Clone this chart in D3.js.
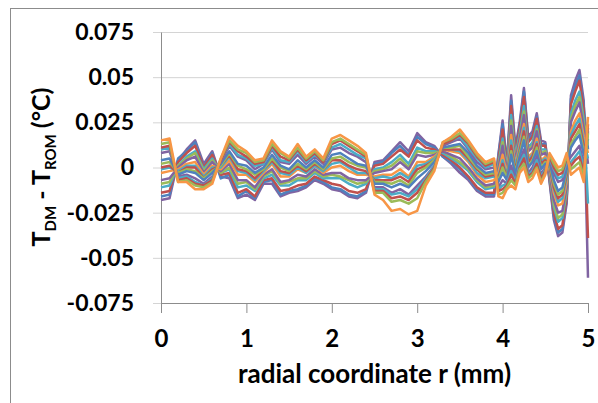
<!DOCTYPE html>
<html>
<head>
<meta charset="utf-8">
<script src="https://cdn.jsdelivr.net/npm/d3@7"></script>
<style>
  body { margin: 0; background: #fff; }
  svg { display: block; font-family: Lato, "Open Sans", sans-serif; }
</style>
</head>
<body>
<div id="chart"></div>
<script>
// radial positions (mm)
const radius = [
  0, 0.1, 0.2, 0.3, 0.4, 0.5, 0.6, 0.7, 0.8, 0.9,
  1.0, 1.1, 1.2, 1.3, 1.4, 1.5, 1.6, 1.7, 1.8, 1.9,
  2.0, 2.1, 2.2, 2.3, 2.4, 2.5, 2.6, 2.7, 2.8, 2.9,
  3.0, 3.1, 3.2, 3.3, 3.4, 3.5, 3.6, 3.7, 3.8, 3.9,
  3.95, 4.0, 4.05, 4.1, 4.15, 4.2, 4.25, 4.3, 4.35, 4.4,
  4.45, 4.5, 4.55, 4.6, 4.65, 4.7, 4.75, 4.8, 4.85, 4.9,
  4.95, 5.0
];

// T_DM - T_ROM for each run, in units of 0.001 °C
const run1 = [-18,-17,4,10,15,2,9,-5,-6,-17, -15,-18,-9,-9,-16,-14,-13,-11,-7,-9, -12,-13,-16,-17,-14,3,4,9,14,9, 19,14,12,6,2,-3,-7,-13,-16,-16, 7,26,2,40,11,25,44,17,20,30, 15,14,-8,-29,-38,-36,-20,40,48,54, 37,-61];
const runA = [-16,-15,5,9,14,0,8,-6,-4,-16, -13,-17,-8,-7,-15,-13,-12,-10,-6,-8, -11,-12,-15,-16,-13,2,3,8,12,7, 17,13,11,6,3,-1,-6,-12,-15,-15, 6,24,1,37,9,23,42,16,18,28, 13,13,-7,-27,-36,-34,-18,38,45,51, 34,10];
const run2 = [-14,-13,3,8,12,0,7,-4,-3,-14, -12,-16,-7,-6,-13,-12,-10,-9,-5,-7, -9,-10,-13,-14,-12,1,2,6,10,6, 15,11,10,7,4,0,-5,-11,-14,-14, 4,21,0,34,8,22,39,14,17,27, 12,12,-6,-25,-34,-32,-17,35,42,48, 32,-39];
const run3 = [-11,-10,1,6,9,-1,5,-3,-1,-11, -10,-13,-6,-4,-10,-10,-7,-7,-3,-6, -6,-6,-9,-11,-9,-1,0,3,7,2, 11,9,9,8,5,2,-2,-8,-12,-11, 2,16,-1,29,6,19,34,11,14,23, 10,10,-4,-22,-30,-28,-14,30,37,42, 27,-20];
const runB = [-9,-8,1,5,8,-2,4,-3,0,-9, -8,-12,-5,-2,-9,-8,-6,-6,-2,-5, -4,-5,-7,-9,-8,-2,-1,1,5,0, 9,8,8,9,6,3,-1,-7,-11,-10, 0,14,-2,26,4,17,31,10,12,21, 8,9,-3,-20,-28,-26,-12,27,34,39, 24,18];
const run4 = [-7,-6,0,4,6,-3,3,-2,2,-7, -7,-11,-4,-1,-8,-7,-4,-5,-1,-4, -3,-3,-6,-7,-7,-3,-2,-1,3,-1, 7,6,7,9,7,5,0,-6,-10,-9, -1,12,-3,23,3,16,29,9,11,20, 7,8,-3,-18,-25,-24,-11,25,31,36, 22,2];
const run5 = [-3,-2,-1,2,3,-4,1,-1,4,-4, -4,-8,-3,2,-5,-5,-1,-3,1,-3, 0,1,-2,-4,-4,-5,-4,-4,-1,-5, 3,3,6,10,9,8,3,-4,-8,-7, -3,7,-4,18,1,13,24,6,8,16, 4,6,-1,-14,-21,-20,-8,20,26,30, 17,8];
const runC = [-1,0,-2,1,1,-5,0,0,6,-2, -3,-7,-2,3,-3,-4,0,-3,1,-2, 2,3,0,-3,-3,-6,-5,-6,-3,-6, 1,2,5,10,10,9,4,-3,-6,-5, -5,4,-5,15,0,11,22,4,7,14, 3,5,0,-12,-19,-17,-6,18,23,27, 14,5];
const run6 = [0,1,-3,0,0,-6,-1,1,7,-1, -2,-6,-1,4,-2,-3,1,-2,2,-1, 4,4,1,-1,-2,-7,-7,-7,-5,-8, -1,1,4,10,10,10,5,-1,-5,-4, -6,2,-6,12,-2,9,20,3,6,13, 2,4,1,-11,-17,-15,-4,16,20,24, 12,12];
const runD = [2,3,-3,-1,-2,-6,-2,1,8,1, -1,-4,-1,5,0,-2,2,-1,3,-1, 5,6,3,1,0,-8,-8,-9,-7,-10, -3,0,4,11,11,12,6,0,-4,-3, -7,0,-6,9,-3,8,17,1,4,11, 0,3,2,-9,-15,-13,-2,13,17,21, 9,14];
const run7 = [4,5,-4,-2,-3,-7,-3,2,9,2, 1,-3,0,7,1,-1,4,0,4,0, 7,8,5,2,1,-9,-9,-11,-9,-11, -6,-2,3,11,12,13,8,1,-3,-2, -8,-3,-7,7,-4,6,15,0,3,9, -1,2,3,-7,-13,-11,-1,11,15,18, 7,16];
const run8 = [8,9,-5,-4,-6,-9,-5,3,12,6, 4,-1,2,10,3,2,7,2,6,2, 10,11,8,6,3,-11,-11,-14,-12,-15, -10,-5,1,12,14,16,10,3,-1,0, -11,-7,-9,1,-7,3,10,-3,0,6, -4,0,4,-3,-8,-7,2,6,9,12, 2,20];
const runE = [10,11,-6,-5,-8,-10,-6,4,13,7, 5,1,2,11,4,3,9,3,7,3, 11,13,10,7,5,-12,-12,-15,-14,-16, -12,-6,1,13,15,17,11,5,0,2, -12,-10,-9,-2,-8,2,7,-4,-2,4, -5,-1,5,-1,-6,-5,3,3,6,9, 0,22];
const run9 = [11,12,-7,-6,-9,-10,-7,4,14,9, 6,2,3,12,6,4,10,4,8,3, 13,15,12,9,6,-13,-13,-17,-16,-18, -14,-7,0,13,15,18,13,6,1,3, -13,-12,-10,-4,-9,0,5,-5,-3,2, -6,-2,6,0,-4,-3,5,1,4,6, -3,24];
const runF = [13,14,-8,-7,-10,-11,-8,5,15,10, 8,3,4,13,8,5,11,5,9,4, 14,16,13,10,7,-14,-14,-19,-18,-20, -17,-8,-1,14,16,19,14,7,2,4, -15,-14,-11,-7,-10,-1,2,-6,-4,0, -8,-3,7,2,-2,-1,6,-1,1,3, -5,19];
const run10 = [15,16,-8,-8,-12,-12,-9,5,17,12, 9,4,5,15,9,6,13,6,10,5, 16,18,15,12,8,-15,-18,-24,-23,-26, -24,-10,-2,14,17,21,15,8,3,5, -16,-17,-12,-10,-12,-3,0,-8,-6,-1, -9,-4,8,4,0,1,8,-4,-2,0, -8,28];

const runs = [run1, runA, run2, run3, runB, run4, run5, runC,
              run6, runD, run7, run8, runE, run9, runF, run10];

const xTicks = [0, 1, 2, 3, 4, 5];
const yTicks = [-0.075, -0.05, -0.025, 0, 0.025, 0.05, 0.075];
const yTickLabels = ["-0.075", "-0.05", "-0.025", "0", "0.025", "0.05", "0.075"];

const colors = ["#8064A2", "#4F81BD", "#C0504D", "#4BACC6", "#9BBB59", "#8064A2",
                "#F79646", "#4BACC6", "#C0504D", "#9BBB59", "#4F81BD", "#8064A2",
                "#4BACC6", "#C0504D", "#9BBB59", "#F79646"];

const svgWidth = 598;
const svgHeight = 403;
const plot = { left: 161, right: 588, top: 32, bottom: 303 };

const svg = d3.select("#chart")
  .append("svg")
  .attr("width", svgWidth)
  .attr("height", svgHeight);

// chart frame (cut off on the right and bottom)
svg.append("rect")
  .attr("x", 10.5)
  .attr("y", 8.5)
  .attr("width", 640)
  .attr("height", 440)
  .attr("fill", "none")
  .attr("stroke", "#8c8c8c");

const xScale = d3.scaleLinear().domain([0, 5]).range([plot.left, plot.right]);
const yScale = d3.scaleLinear().domain([-0.075, 0.075]).range([plot.bottom, plot.top]);

// horizontal gridlines (they stick out left of the axis as tick marks)
svg.append("g")
  .attr("transform", `translate(${plot.right},0)`)
  .call(d3.axisLeft(yScale).tickValues(yTicks).tickSize(plot.right - 153).tickFormat(""))
  .call((g) => g.select(".domain").remove())
  .call((g) => g.selectAll("line").attr("stroke", "#d4d4d4").attr("stroke-width", 1));

// y axis labels + line
svg.append("g")
  .attr("transform", `translate(${plot.left},0)`)
  .call(d3.axisLeft(yScale).tickValues(yTicks).tickSize(0).tickPadding(27)
    .tickFormat((d, i) => yTickLabels[i]))
  .call((g) => g.select(".domain").attr("stroke", "#8c8c8c"))
  .call((g) => g.selectAll("text")
    .attr("fill", "#000")
    .style("font-family", "Lato, sans-serif")
    .style("font-weight", "bold")
    .style("font-size", "23px"));

// x axis
svg.append("g")
  .attr("transform", `translate(0,${plot.bottom})`)
  .call(d3.axisBottom(xScale).tickValues(xTicks).tickSize(10).tickSizeOuter(0).tickPadding(17)
    .tickFormat(d3.format("d")))
  .call((g) => g.select(".domain").attr("stroke", "#8c8c8c"))
  .call((g) => g.selectAll("line").attr("stroke", "#8c8c8c"))
  .call((g) => g.selectAll("text")
    .attr("fill", "#000")
    .style("font-family", "Lato, sans-serif")
    .style("font-weight", "bold")
    .style("font-size", "24px"));

// lines
const line = d3.line()
  .x((d, i) => xScale(radius[i]))
  .y((d) => yScale(d * 1e-3));

svg.append("g")
  .selectAll("path")
  .data(runs)
  .enter()
  .append("path")
  .attr("fill", "none")
  .attr("stroke", (d, i) => colors[i % colors.length])
  .attr("stroke-width", 2.5)
  .attr("stroke-linejoin", "round")
  .attr("d", line);

// x title
svg.append("text")
  .attr("x", (plot.left + plot.right) / 2)
  .attr("y", 383)
  .attr("text-anchor", "middle")
  .style("font-weight", "bold")
  .style("font-size", "26px")
  .text("radial coordinate r (mm)");

// y title with subscripts
const yTitle = svg.append("text")
  .attr("transform", "translate(50,167) rotate(-90)")
  .attr("text-anchor", "middle")
  .style("font-weight", "bold")
  .style("font-size", "25px");
yTitle.append("tspan").text("T");
yTitle.append("tspan").attr("dy", 6).style("font-size", "15px").text("DM");
yTitle.append("tspan").attr("dy", -6).text(" - T");
yTitle.append("tspan").attr("dy", 6).style("font-size", "15px").text("ROM");
yTitle.append("tspan").attr("dy", -6).text(" (°C)");
</script>
</body>
</html>
